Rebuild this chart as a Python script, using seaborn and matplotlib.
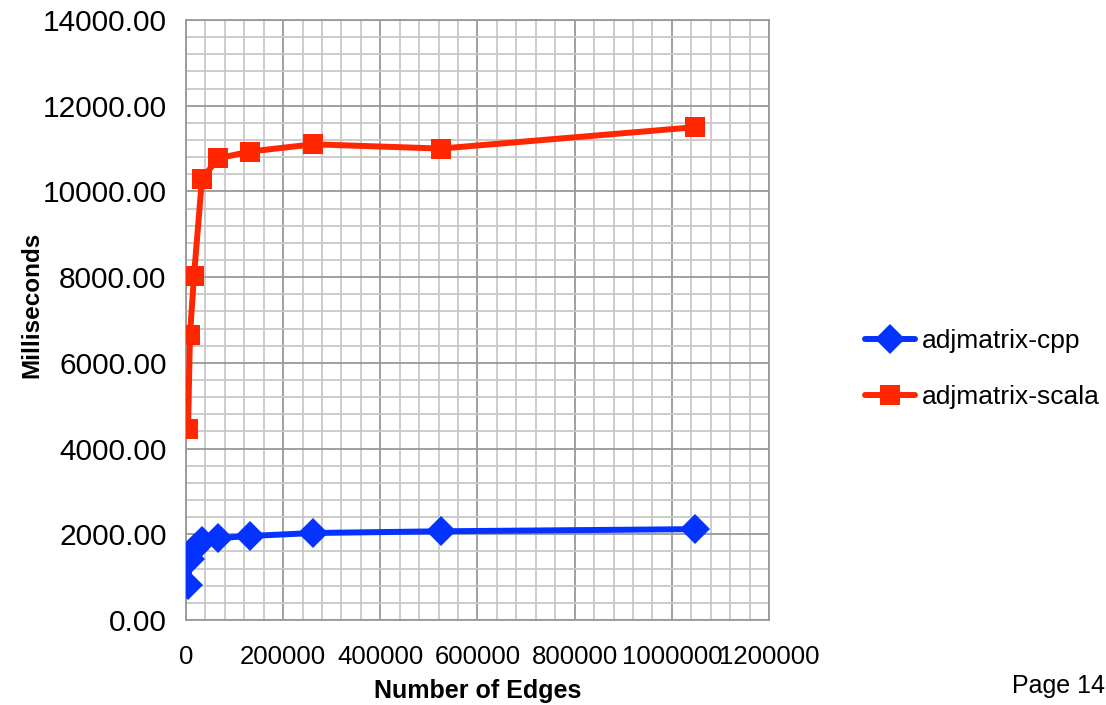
import pandas as pd
import seaborn as sns
import matplotlib.pyplot as plt
from matplotlib.ticker import MultipleLocator, FuncFormatter

# 資料
edges = [4096, 8192, 16384, 32768, 65536, 131072, 262144, 524288, 1048576]
cpp_ms = [820, 1420, 1660, 1850, 1910, 1960, 2030, 2070, 2120]
scala_ms = [4450, 6650, 8020, 10280, 10770, 10930, 11100, 11000, 11500]
series_names = ["adjmatrix-cpp", "adjmatrix-scala"]

df = pd.DataFrame({
    "edges": edges * 2,
    "ms": cpp_ms + scala_ms,
    "series": [series_names[0]] * len(edges) + [series_names[1]] * len(edges),
})

sns.set_style("white")
plt.rcParams['font.family'] = ['Liberation Sans', 'DejaVu Sans']
plt.rcParams['text.color'] = 'black'
plt.rcParams['axes.labelcolor'] = 'black'
plt.rcParams['xtick.color'] = 'black'
plt.rcParams['ytick.color'] = 'black'

fig = plt.figure(figsize=(11.06, 7.05), dpi=100)
ax = fig.add_axes([186 / 1106, 1 - 620 / 705, 583 / 1106, 600 / 705])

sns.lineplot(data=df, x="edges", y="ms", hue="series", style="series",
             markers={series_names[0]: "D", series_names[1]: "s"}, dashes=False,
             palette={series_names[0]: "#0433FF", series_names[1]: "#FF2600"},
             linewidth=4.3, markersize=15, markeredgewidth=0, ax=ax, zorder=3)

ax.set_xlim(0, 1200000)
ax.set_ylim(0, 14000)
ax.xaxis.set_major_locator(MultipleLocator(200000))
ax.xaxis.set_minor_locator(MultipleLocator(40000))
ax.yaxis.set_major_locator(MultipleLocator(2000))
ax.yaxis.set_minor_locator(MultipleLocator(400))
ax.xaxis.set_major_formatter(FuncFormatter(lambda v, p: f"{int(v)}"))
ax.yaxis.set_major_formatter(FuncFormatter(lambda v, p: f"{v:.2f}"))

ax.grid(which="major", color="#999999", linewidth=1.3)
ax.grid(which="minor", color="#c8c8c8", linewidth=1.3)
ax.set_axisbelow(True)
for s in ax.spines.values():
    s.set_color("#999999")
    s.set_linewidth(1.3)

ax.tick_params(which="major", length=6, color="#888888", width=1.3, direction="out")
ax.tick_params(which="minor", length=0)
ax.tick_params(axis="y", labelsize=21.5, pad=8)
ax.tick_params(axis="x", labelsize=18.5, pad=12)

ax.set_xlabel("Number of Edges", fontsize=18, fontweight="bold")
ax.set_ylabel("Milliseconds", fontsize=17.5, fontweight="bold")
ax.xaxis.set_label_coords(0.5, -0.098)
ax.yaxis.set_label_coords(-0.245, 0.525)

handles, labels = ax.get_legend_handles_labels()
ax.get_legend().remove()
fig.legend(handles, labels, loc="center left", bbox_to_anchor=(865 / 1106, 1 - 369 / 705),
           frameon=False, fontsize=19, borderpad=0, borderaxespad=0, handlelength=1.9,
           handletextpad=0.27, labelspacing=1.2)

fig.text(0.999, 1 - 686 / 705, "Page 14", ha="right", va="center", fontsize=18)

plt.savefig("out.png", dpi=100)
